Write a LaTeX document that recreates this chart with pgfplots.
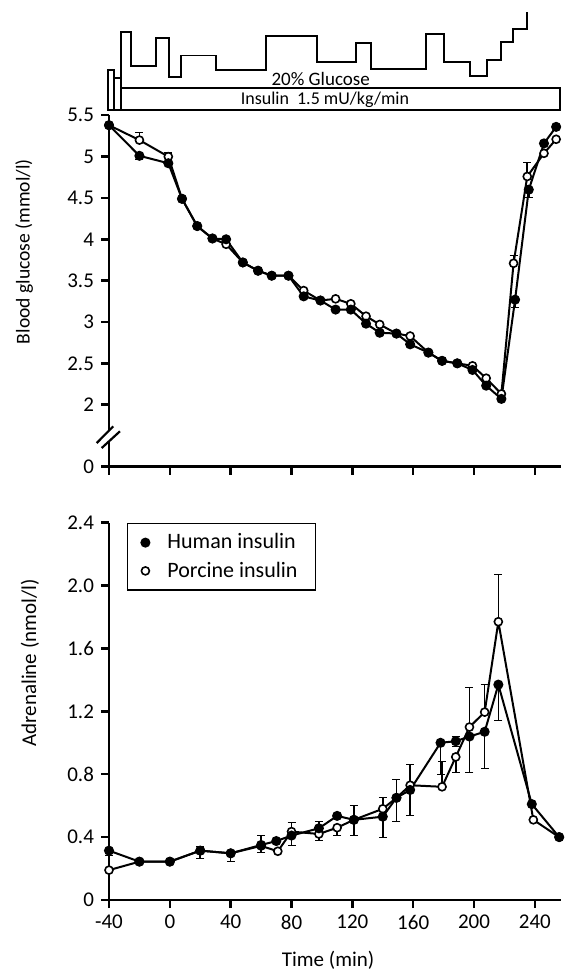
\documentclass[border=0pt]{standalone}
\usepackage{fontspec}
\setmainfont{Carlito}
\usepackage{pgfplots}
\pgfplotsset{compat=1.18}

\pgfplotsset{
  panel/.style={
    scale only axis, width=225.85pt, xmin=-40, xmax=257,
    axis lines=left, axis line style={-, line width=1.3pt},
    tick align=outside, major tick length=4pt,
    tick style={line width=1.2pt, black},
    xtick={-40,0,40,80,120,160,200,240},
    tick label style={font=\fontsize{10.5}{12}\selectfont},
    label style={font=\fontsize{10.5}{12}\selectfont},
    clip=false,
  },
  human/.style={black, line width=1pt, mark=*, mark size=2pt,
    mark options={solid, fill=black}},
  porcine/.style={black, line width=1pt, mark=*, mark size=2pt,
    mark options={solid, fill=white, draw=black, line width=0.8pt}},
  bars/.style={error bars/.cd, y dir=both, y explicit,
    error bar style={line width=0.8pt, black}, /pgfplots/.cd},
}

\begin{document}
\begin{tikzpicture}
\useasboundingbox (-54.5pt,-38.5pt) rectangle (230pt,450pt);

% ---- top panel: blood glucose, with the infusion schedule above it
\begin{axis}[panel, at={(0,216.65pt)}, height=175.7pt,
  ymin=1.25, ymax=5.5,
  ytick={1.25,2,2.5,3,3.5,4,4.5,5,5.5},
  yticklabels={0,2,2.5,3,3.5,4,4.5,5,5.5},
  xticklabels={},
  ylabel={Blood glucose (mmol/l)},
  ylabel style={at={(axis description cs:-0.188,0.612)}, anchor=center,
    font=\fontsize{9.8}{11}\selectfont},
  after end axis/.code={
    \draw[white, line width=3pt] (axis cs:-40,1.55) -- (axis cs:-40,1.69);
    \draw[black, line width=1.1pt] (axis cs:-48.1,1.536) -- (axis cs:-37.2,1.738);
    \draw[black, line width=1.1pt] (axis cs:-44.8,1.476) -- (axis cs:-32.8,1.678);
  },
]
% infusion boxes
\draw[line width=0.9pt] (axis cs:-40.85,5.564) rectangle (axis cs:-36.7,6.048);
\draw[line width=0.9pt] (axis cs:-36.7,5.564) rectangle (axis cs:-32.3,5.948);
\draw[line width=0.9pt] (axis cs:-32.3,5.564) rectangle (axis cs:256.5,5.827);
\addplot[black, line width=0.9pt, mark=none] coordinates {
  (-32.3,5.827) (-32.3,6.505) (-25.7,6.505) (-25.7,6.100) (-9.3,6.100)
  (-9.3,6.439) (-0.55,6.439) (-0.55,5.960) (7.1,5.960) (7.1,6.222)
  (30.2,6.222) (30.2,6.048) (63.0,6.048) (63.0,6.460) (97.0,6.460)
  (97.0,6.142) (122.2,6.142) (122.2,6.379) (132.1,6.379) (132.1,6.057)
  (168.2,6.057) (168.2,6.481) (180.3,6.481) (180.3,6.149) (197.3,6.149)
  (197.3,5.976) (208.3,5.976) (208.3,6.169) (217.7,6.169) (217.7,6.384)
  (225.8,6.384) (225.8,6.545) (234.6,6.545) (234.6,6.754)
};
\node[anchor=base, font=\fontsize{9.5}{10}\selectfont] at (axis cs:99.2,5.855) {20\% Glucose};
\node[anchor=base, font=\fontsize{9}{10}\selectfont] at (axis cs:102,5.625) {Insulin\ \ 1.5 mU/kg/min};

% porcine (open)
\addplot[porcine, bars] table[x=t, y=v, y error plus=ep, y error minus=em] {
t v ep em
-40 5.38 0 0
-20 5.20 0.09 0
-1 5.00 0.05 0
8 4.49 0 0
18 4.16 0 0
28 4.01 0 0
37 3.94 0 0
48 3.72 0 0
58 3.62 0 0
67 3.56 0 0
78 3.56 0 0
88 3.38 0 0
99 3.26 0 0
109 3.28 0 0
119 3.22 0 0
129 3.07 0 0
138 2.97 0 0
149 2.86 0 0
158 2.83 0 0
170 2.63 0 0
179 2.53 0 0
189 2.50 0 0
199 2.47 0 0
208 2.32 0 0
218 2.13 0 0
226 3.71 0.10 0
235 4.76 0.17 0
246 5.04 0 0
254 5.21 0 0
};
% human (filled)
\addplot[human, bars] table[x=t, y=v, y error plus=ep, y error minus=em] {
t v ep em
-40 5.38 0 0
-20 5.01 0 0.04
-1 4.92 0 0
8 4.49 0 0
18 4.16 0 0
28 4.01 0 0
37 4.00 0 0
48 3.72 0 0
58 3.62 0 0
67 3.56 0 0
78 3.56 0 0
88 3.31 0 0
99 3.26 0 0
109 3.15 0 0
119 3.15 0 0
129 2.98 0 0
138 2.87 0 0
149 2.86 0 0
158 2.73 0 0
170 2.63 0 0
179 2.53 0 0
189 2.50 0 0
199 2.42 0 0
208 2.23 0 0
218 2.07 0 0
227 3.27 0 0.09
236 4.60 0 0.09
246 5.16 0 0
254 5.36 0 0
};
\end{axis}

% ---- bottom panel: adrenaline
\begin{axis}[panel, at={(0,0)}, height=188.65pt,
  ymin=0, ymax=2.4,
  ytick={0,0.4,0.8,1.2,1.6,2.0,2.4},
  yticklabels={0,0.4,0.8,1.2,1.6,2.0,2.4},
  xticklabels={-40,0,40,80,120,160,200,240},
  xlabel={Time (min)},
  xlabel style={at={(axis description cs:0.485,-0.159)}, anchor=center},
  ylabel={Adrenaline (nmol/l)},
  ylabel style={at={(axis description cs:-0.175,0.628)}, anchor=center},
  legend style={at={(0.039,1)}, anchor=north west, draw=black, line width=0.8pt,
    font=\fontsize{11}{13}\selectfont, inner xsep=7pt, inner ysep=3pt,
    row sep=1pt, column sep=7pt, cells={anchor=west}},
  legend image code/.code={\draw[#1] plot[only marks] coordinates {(0.1cm,0cm)};},
]
\addlegendimage{human}
\addlegendentry{Human insulin}
\addlegendimage{porcine}
\addlegendentry{Porcine insulin}

\addplot[porcine, bars, forget plot] table[x=t, y=v, y error plus=ep, y error minus=em] {
t v ep em
-40 0.19 0 0
-20 0.244 0 0
0 0.244 0 0
20 0.314 0 0
40 0.297 0 0
60 0.344 0.07 0
71 0.31 0 0
80 0.435 0.06 0
98 0.42 0.08 0
110 0.46 0 0.05
121 0.51 0 0
140 0.58 0.07 0
149 0.65 0 0
158 0.73 0.135 0
179 0.72 0.16 0
188 0.91 0 0.10
197 1.10 0.25 0
207 1.195 0.175 0
216 1.77 0.30 0
239 0.51 0 0
256 0.40 0 0
};
\addplot[human, bars, forget plot] table[x=t, y=v, y error plus=ep, y error minus=em] {
t v ep em
-40 0.314 0 0.03
-20 0.244 0 0
0 0.244 0 0
20 0.314 0.025 0.05
40 0.297 0 0.05
60 0.35 0 0.05
70 0.375 0 0
80 0.41 0 0.06
98 0.456 0 0.076
110 0.535 0 0
121 0.51 0.09 0.10
140 0.53 0 0.13
149 0.65 0.12 0.15
158 0.70 0 0.16
178 1.00 0 0.20
188 1.01 0.03 0.03
197 1.04 0 0.23
207 1.07 0 0.23
216 1.37 0 0.23
238 0.61 0 0
256 0.40 0 0
};
\end{axis}
\end{tikzpicture}
\end{document}
